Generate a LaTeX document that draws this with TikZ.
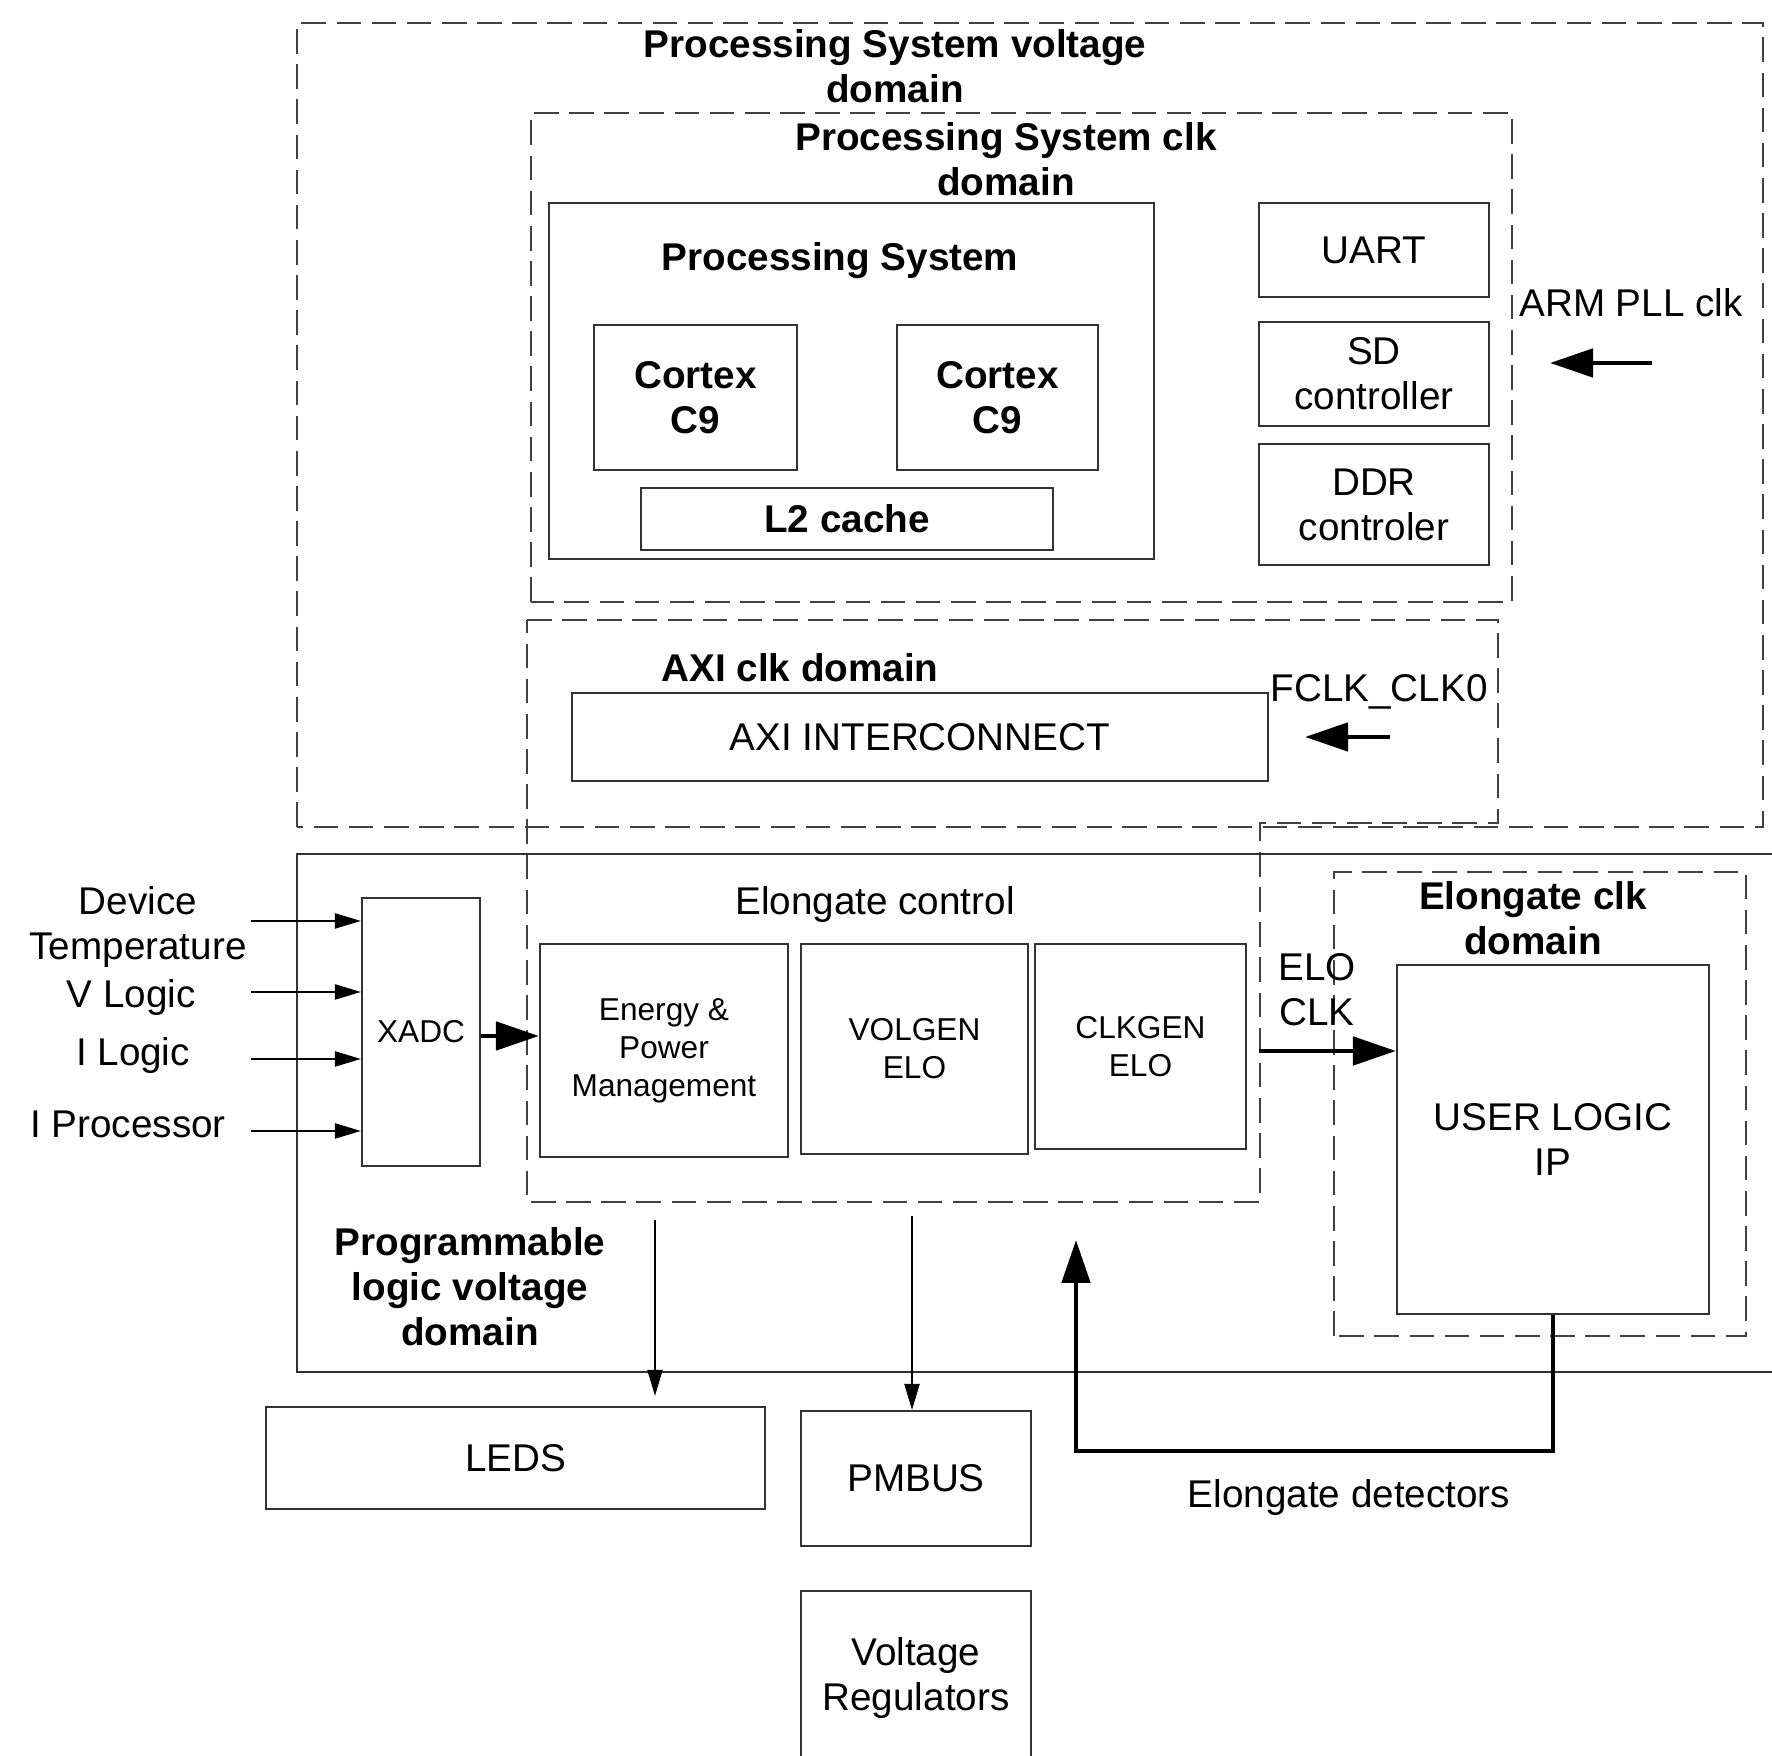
\documentclass[tikz,border=0pt]{standalone}
\usepackage{fontspec}
\setmainfont{Liberation Sans}
\usetikzlibrary{arrows.meta}
\usetikzlibrary{positioning}

\begin{document}
\begin{tikzpicture}[
    font=\fontsize{11}{12.8}\selectfont,
    box/.style={draw=black!80, line width=0.6pt, inner sep=0pt, align=center},
    smallbox/.style={box, font=\fontsize{9}{10.8}\selectfont},
    boldbox/.style={box, font=\fontsize{11}{12.8}\selectfont\bfseries},
    frame/.style={draw=black!80, line width=0.6pt},
    dombox/.style={draw=black!75, line width=0.7pt, dash pattern=on 7pt off 3pt},
    title/.style={font=\fontsize{11}{12.8}\selectfont\bfseries, align=center, inner sep=0pt},
    lbl/.style={align=center, inner sep=0pt},
    thin arrow/.style={line width=0.6pt, -{Triangle[length=2.6mm, width=1.5mm]}},
    thick arrow/.style={line width=1.4pt, -{Triangle[length=4.3mm, width=2.8mm]}},
  ]
  \useasboundingbox (0,0) rectangle (17.72,17.56);

  % processing system side
  \draw[dombox] (2.97,9.29) rectangle (17.63,17.33);
  \node[title] (psvolt) at (8.95,16.90) {Processing System voltage\\domain};
  \draw[dombox] (5.31,11.54) rectangle (15.12,16.43);
  \node[title] (psclk) at (10.06,15.965) {Processing System clk\\domain};

  \node[box, minimum width=6.05cm, minimum height=3.56cm] (ps) at (8.515,13.75) {};
  \node[title] (pstitle) at (8.40,14.95) {Processing System};
  \node[boldbox, minimum width=2.03cm, minimum height=1.45cm] (cpua) at (6.955,13.585) {Cortex\\C9};
  \node[boldbox, minimum width=2.01cm, minimum height=1.45cm] (cpub) at (9.975,13.585) {Cortex\\C9};
  \node[boldbox, minimum width=4.12cm, minimum height=0.62cm] (l2) at (8.47,12.37) {L2 cache};

  \node[box, minimum width=2.30cm, minimum height=0.94cm] (uart) at (13.74,15.06) {UART};
  \node[box, minimum width=2.30cm, minimum height=1.04cm] (sd) at (13.74,13.82) {SD\\controller};
  \node[box, minimum width=2.30cm, minimum height=1.21cm] (ddr) at (13.74,12.515) {DDR\\controler};

  \node[lbl] (armclk) at (16.31,14.53) {ARM PLL clk};
  \coordinate (armsrc) at (16.52,13.93);
  \coordinate (armdst) at (15.50,13.93);
  \draw[thick arrow] (armsrc) -- (armdst);

  % axi clock domain, reaching down into the logic side
  \draw[dombox] (5.27,11.36) -- (14.98,11.36) -- (14.98,9.33) -- (12.60,9.33)
    -- (12.60,5.54) -- (5.27,5.54) -- cycle;
  \node[title] (axiclk) at (8.00,10.88) {AXI clk domain};
  \node[box, minimum width=6.96cm, minimum height=0.88cm] (axi) at (9.20,10.19) {AXI INTERCONNECT};
  \node[lbl] (fclk) at (13.79,10.64) {FCLK\_CLK0};
  \coordinate (fclksrc) at (13.90,10.19);
  \coordinate (fclkdst) at (13.05,10.19);
  \draw[thick arrow] (fclksrc) -- (fclkdst);

  % programmable logic side
  \draw[frame] (18.2,9.02) -- (2.97,9.02) -- (2.97,3.84) -- (18.2,3.84);
  \node[title] (plvolt) at (4.70,4.69) {Programmable\\logic voltage\\domain};

  \node[lbl] (elocontrol) at (8.75,8.51) {Elongate control};
  \node[smallbox, minimum width=2.48cm, minimum height=2.13cm] (energy) at (6.64,7.055) {Energy \&\\Power\\Management};
  \node[smallbox, minimum width=2.27cm, minimum height=2.10cm] (volgen) at (9.145,7.07) {VOLGEN\\ELO};
  \node[smallbox, minimum width=2.11cm, minimum height=2.05cm] (clkgen) at (11.405,7.095) {CLKGEN\\ELO};
  \node[smallbox, minimum width=1.18cm, minimum height=2.68cm] (xadc) at (4.21,7.24) {XADC};

  \node[lbl] (temp) at (1.38,8.29) {Device\\Temperature};
  \node[lbl] (vlogic) at (1.31,7.58) {V Logic};
  \node[lbl] (ilogic) at (1.33,7.00) {I Logic};
  \node[lbl] (iproc) at (1.28,6.32) {I Processor};
  \foreach \n/\y in {temp/8.35, vlogic/7.64, ilogic/6.97, iproc/6.25}{
    \coordinate (\n in) at (2.51,\y);
    \draw[thin arrow] (\n in) -- (xadc.west |- \n in);
  }
  \draw[thick arrow] ([yshift=-0.4mm]xadc.east) -- ([yshift=-0.4mm]energy.west |- xadc.east);

  \draw[dombox] (13.34,4.20) rectangle (17.46,8.84);
  \node[title] (eloclkdom) at (15.33,8.375) {Elongate clk\\domain};
  \node[box, minimum width=3.12cm, minimum height=3.49cm] (user) at (15.53,6.165) {USER LOGIC\\IP};
  \node[lbl] (eloclk) at (13.17,7.66) {ELO\\CLK};
  \draw[thick arrow, shorten <=1.2mm] ([yshift=-0.45mm]clkgen.east) -- ([yshift=-0.45mm]user.west |- clkgen.east);

  % off chip
  \node[box, minimum width=4.99cm, minimum height=1.02cm] (leds) at (5.155,2.98) {LEDS};
  \node[box, minimum width=2.30cm, minimum height=1.35cm] (pmbus) at (9.16,2.775) {PMBUS};
  \node[box, minimum width=2.30cm, minimum height=1.75cm] (vreg) at (9.16,0.775) {Voltage\\Regulators};

  \coordinate (ledsrc) at (6.55,5.36);
  \coordinate (pmbsrc) at (9.12,5.40);
  \draw[thin arrow, shorten >=1mm] (ledsrc) -- (ledsrc |- leds.north);
  \draw[thin arrow] (pmbsrc) -- (pmbsrc |- pmbus.north);

  \coordinate (detcorner) at (10.76,3.05);
  \coordinate (detdst) at (10.76,5.16);
  \draw[thick arrow] (user.south) |- (detcorner) -- (detdst);
  \node[lbl] (detectors) at (13.49,2.58) {Elongate detectors};
\end{tikzpicture}
\end{document}
